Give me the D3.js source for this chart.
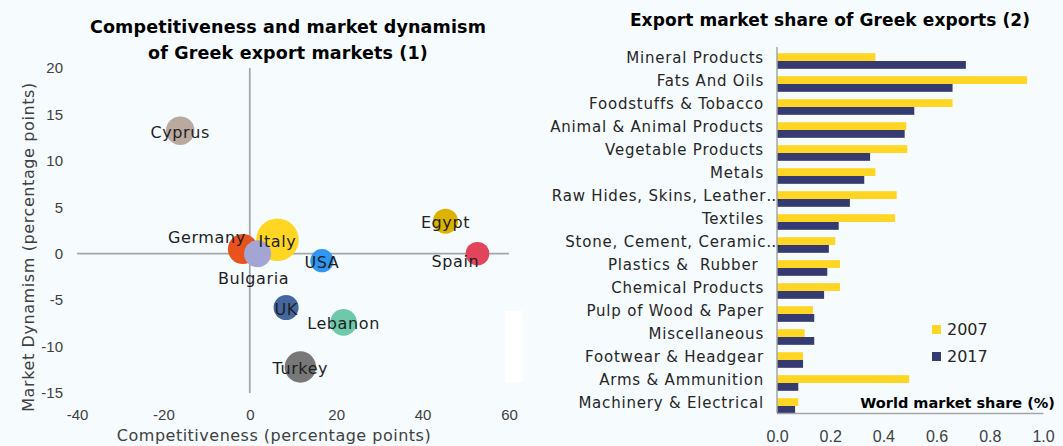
<!DOCTYPE html>
<html>
<head>
<meta charset="utf-8">
<script src="https://cdn.jsdelivr.net/npm/d3@7"></script>
<style>
  body { margin: 0; background: #f6fbfe; }
  svg { display: block; font-family: "DejaVu Sans", sans-serif; }
  text { white-space: pre; }
</style>
</head>
<body>
<script>
// bubble chart (1)
var countries = ["Cyprus", "Germany", "Italy", "Bulgaria", "USA", "Egypt", "Spain", "UK", "Lebanon", "Turkey"];
var competitiveness = [-16.1, -1.6, 6.4, 1.8, 16.7, 45.3, 52.7, 8.4, 21.7, 11.7];
var dynamism = [13.25, 0.5, 1.5, 0.0, -0.75, 3.5, 0.0, -5.8, -7.4, -12.2];
var exportWeight = [4.8, 5.3, 10.7, 4.3, 3.2, 3.7, 3.3, 3.7, 4.2, 5.8];
var xTicks = [-40, -20, 0, 20, 40, 60];
var yTicks = [20, 15, 10, 5, 0, -5, -10, -15];

// bar chart (2)
var sectors = ["Mineral Products", "Fats And Oils", "Foodstuffs & Tobacco", "Animal & Animal Products",
  "Vegetable Products", "Metals", "Raw Hides, Skins, Leather\u2026", "Textiles", "Stone, Cement, Ceramic\u2026",
  "Plastics &  Rubber ", "Chemical Products", "Pulp of Wood & Paper", "Miscellaneous",
  "Footwear & Headgear", "Arms & Ammunition", "Machinery & Electrical"];
var share2007 = [0.37, 0.94, 0.66, 0.486, 0.49, 0.37, 0.45, 0.444, 0.219, 0.237, 0.237, 0.135, 0.104, 0.098, 0.497, 0.08];
var share2017 = [0.71, 0.66, 0.516, 0.48, 0.35, 0.328, 0.274, 0.232, 0.195, 0.189, 0.177, 0.14, 0.14, 0.098, 0.08, 0.068];
var years = ["2007", "2017"];
var shareTicks = [0, 0.2, 0.4, 0.6, 0.8, 1.0];

var bubbleColor = {Cyprus: "#b9a99f", Germany: "#e8521c", Italy: "#ffd723", Bulgaria: "#a3a5d5", USA: "#2f97f2",
  Egypt: "#dbb300", Spain: "#e2445c", UK: "#45679f", Lebanon: "#6dc9a9", Turkey: "#787878"};
var labelNudge = {Germany: [-36, -13], Bulgaria: [-4, 23], Spain: [-22, 6]};
var yearColor = {"2007": "#ffd624", "2017": "#353b70"};

var svg = d3.select("body").append("svg").attr("width", 1063).attr("height", 446);

// ---------- left: bubbles ----------
var x = d3.scaleLinear().domain([-40, 60]).range([77, 509]);
var y = d3.scaleLinear().domain([-15, 20]).range([393, 68]);
var r = d3.scaleSqrt().domain([0, 10.7]).range([0, 21.3]);

var left = svg.append("g");

left.append("text").attr("x", 288).attr("y", 33).attr("text-anchor", "middle")
  .attr("font-size", 17.5).attr("font-weight", "bold").attr("letter-spacing", 0.15)
  .text("Competitiveness and market dynamism");
left.append("text").attr("x", 288).attr("y", 59).attr("text-anchor", "middle")
  .attr("font-size", 17.5).attr("font-weight", "bold").attr("letter-spacing", 0.15)
  .text("of Greek export markets (1)");

left.append("g").attr("transform", "translate(0," + y(-15) + ")")
  .call(d3.axisBottom(x).tickValues(xTicks).tickSize(0).tickPadding(16).tickFormat(function(d) { return String(d); }))
  .call(function(g) { g.select(".domain").remove(); })
  .selectAll("text").attr("font-size", 15).attr("fill", "#404040").attr("font-family", null);

left.append("g").attr("transform", "translate(" + x(-40) + ",0)")
  .call(d3.axisLeft(y).tickValues(yTicks).tickSize(0).tickPadding(14).tickFormat(function(d) { return String(d); }))
  .call(function(g) { g.select(".domain").remove(); })
  .selectAll("text").attr("font-size", 15).attr("fill", "#404040").attr("font-family", null);

left.append("line").attr("x1", x(-40)).attr("x2", x(60)).attr("y1", y(0)).attr("y2", y(0))
  .attr("stroke", "#a6a6a6").attr("stroke-width", 1.75);
left.append("line").attr("x1", x(0)).attr("x2", x(0)).attr("y1", y(20)).attr("y2", y(-15))
  .attr("stroke", "#a6a6a6").attr("stroke-width", 1.75);

left.append("text").attr("x", 274).attr("y", 441).attr("text-anchor", "middle")
  .attr("font-size", 16).attr("letter-spacing", 0.5).attr("fill", "#404040")
  .text("Competitiveness (percentage points)");
left.append("text").attr("transform", "translate(34,247) rotate(-90)").attr("text-anchor", "middle")
  .attr("font-size", 16).attr("letter-spacing", 0.6).attr("fill", "#404040")
  .text("Market Dynamism (percentage points)");

var points = countries.map(function(c, i) {
  return {name: c, cx: competitiveness[i], dy: dynamism[i], w: exportWeight[i]};
});

left.selectAll("circle").data(points).enter().append("circle")
  .attr("cx", function(d) { return x(d.cx); })
  .attr("cy", function(d) { return y(d.dy); })
  .attr("r", function(d) { return r(d.w); })
  .attr("fill", function(d) { return bubbleColor[d.name]; });

left.selectAll(".blabel").data(points).enter().append("text")
  .attr("class", "blabel")
  .attr("x", function(d) { return x(d.cx) + (labelNudge[d.name] ? labelNudge[d.name][0] : 0); })
  .attr("y", function(d) { return y(d.dy) + 7 + (labelNudge[d.name] ? labelNudge[d.name][1] : 0); })
  .attr("text-anchor", "middle").attr("font-size", 16).attr("letter-spacing", 0.6).attr("fill", "#1f1f1f")
  .text(function(d) { return d.name; });

left.append("rect").attr("x", 505).attr("y", 311).attr("width", 18).attr("height", 71).attr("fill", "#fff");

// ---------- right: bars ----------
var x2 = d3.scaleLinear().domain([0, 1]).range([777, 1043]);
var y2 = d3.scaleBand().domain(sectors).range([49.5, 417.5]).paddingInner(0.32).paddingOuter(0.16);
var ySub = d3.scaleBand().domain(years).range([0, y2.bandwidth()]);

var right = svg.append("g");

right.append("text").attr("x", 830).attr("y", 26).attr("text-anchor", "middle")
  .attr("font-size", 17).attr("font-weight", "bold").attr("letter-spacing", 0.1)
  .text("Export market share of Greek exports (2)");

var rows = sectors.map(function(s, i) {
  return {sector: s, values: [{year: "2007", v: share2007[i]}, {year: "2017", v: share2017[i]}]};
});

var groups = right.selectAll(".grp").data(rows).enter().append("g")
  .attr("transform", function(d) { return "translate(0," + y2(d.sector) + ")"; });

groups.selectAll("rect").data(function(d) { return d.values; }).enter().append("rect")
  .attr("x", x2(0))
  .attr("y", function(d) { return ySub(d.year); })
  .attr("width", function(d) { return x2(d.v) - x2(0); })
  .attr("height", ySub.bandwidth())
  .attr("fill", function(d) { return yearColor[d.year]; });

right.selectAll(".clabel").data(sectors).enter().append("text")
  .attr("class", "clabel")
  .attr("x", function(d) { return d.slice(-1) === "\u2026" ? 782 : 764; })
  .attr("y", function(d) { return y2(d) + y2.bandwidth() / 2 + 1.5; })
  .attr("text-anchor", "end").attr("font-size", 15).attr("letter-spacing", 0.8).attr("fill", "#262626")
  .text(function(d) { return d; });

right.append("line").attr("x1", x2(0)).attr("x2", x2(0)).attr("y1", 47).attr("y2", 413)
  .attr("stroke", "#a6a6a6").attr("stroke-width", 1.5);

right.append("g").attr("transform", "translate(0,413)")
  .call(d3.axisBottom(x2).tickValues(shareTicks).tickSize(0).tickPadding(18).tickFormat(d3.format(".1f")))
  .call(function(g) { g.select(".domain").attr("stroke", "#a6a6a6").attr("stroke-width", 1.5); })
  .selectAll("text").attr("font-size", 16).attr("fill", "#404040").attr("font-family", null);

right.append("text").attr("x", 1055).attr("y", 408).attr("text-anchor", "end")
  .attr("font-size", 14.5).attr("font-weight", "bold").text("World market share (%)");

var legend = right.selectAll(".leg").data(years).enter().append("g")
  .attr("transform", function(d, i) { return "translate(932," + (325 + i * 27) + ")"; });
legend.append("rect").attr("width", 9).attr("height", 9).attr("fill", function(d) { return yearColor[d]; });
legend.append("text").attr("x", 15).attr("y", 10).attr("font-size", 16).attr("fill", "#262626")
  .text(function(d) { return d; });
</script>
</body>
</html>
